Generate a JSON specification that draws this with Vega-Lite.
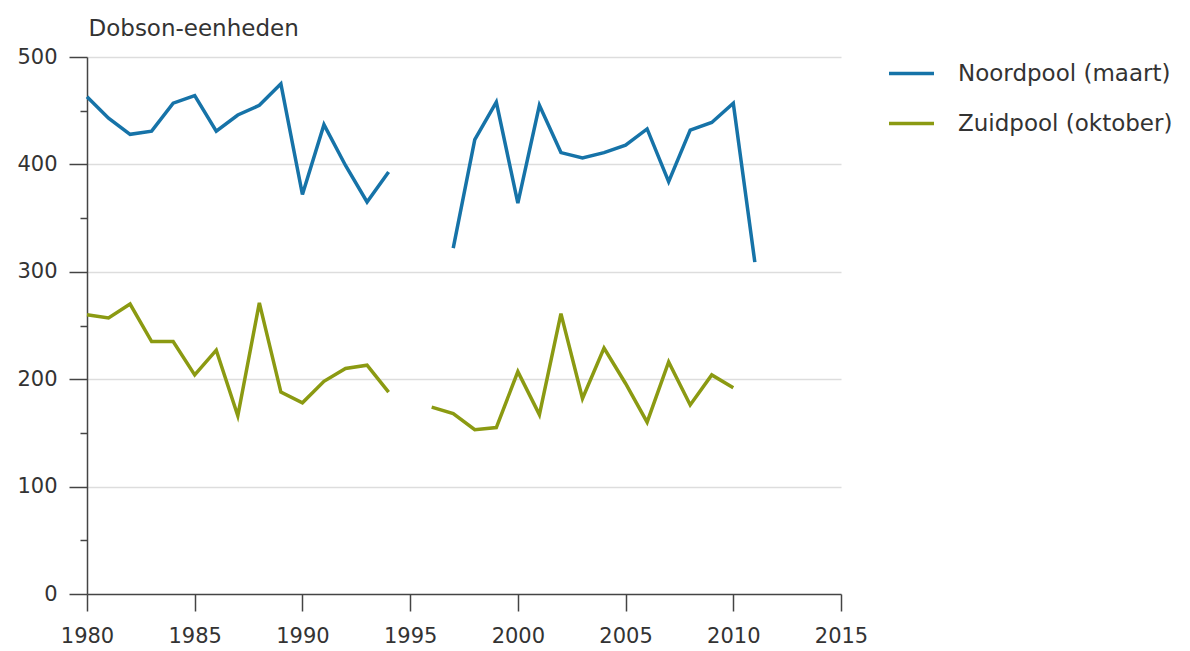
{
  "$schema": "https://vega.github.io/schema/vega-lite/v6.json",
  "width": 754,
  "height": 537,
  "autosize": "none",
  "padding": {"left": 87, "top": 57, "right": 349, "bottom": 57},
  "background": "white",
  "config": {
    "font": "DejaVu Sans",
    "view": {"stroke": null}
  },
  "data": {
    "values": [
      {"jaar": 1980, "serie": "Noordpool (maart)", "waarde": 463},
      {"jaar": 1981, "serie": "Noordpool (maart)", "waarde": 443},
      {"jaar": 1982, "serie": "Noordpool (maart)", "waarde": 428},
      {"jaar": 1983, "serie": "Noordpool (maart)", "waarde": 431},
      {"jaar": 1984, "serie": "Noordpool (maart)", "waarde": 457},
      {"jaar": 1985, "serie": "Noordpool (maart)", "waarde": 464},
      {"jaar": 1986, "serie": "Noordpool (maart)", "waarde": 431},
      {"jaar": 1987, "serie": "Noordpool (maart)", "waarde": 446},
      {"jaar": 1988, "serie": "Noordpool (maart)", "waarde": 455},
      {"jaar": 1989, "serie": "Noordpool (maart)", "waarde": 475},
      {"jaar": 1990, "serie": "Noordpool (maart)", "waarde": 372},
      {"jaar": 1991, "serie": "Noordpool (maart)", "waarde": 437},
      {"jaar": 1992, "serie": "Noordpool (maart)", "waarde": 399},
      {"jaar": 1993, "serie": "Noordpool (maart)", "waarde": 365},
      {"jaar": 1994, "serie": "Noordpool (maart)", "waarde": 393},
      {"jaar": 1995, "serie": "Noordpool (maart)", "waarde": null},
      {"jaar": 1996, "serie": "Noordpool (maart)", "waarde": null},
      {"jaar": 1997, "serie": "Noordpool (maart)", "waarde": 322},
      {"jaar": 1998, "serie": "Noordpool (maart)", "waarde": 423},
      {"jaar": 1999, "serie": "Noordpool (maart)", "waarde": 458},
      {"jaar": 2000, "serie": "Noordpool (maart)", "waarde": 364},
      {"jaar": 2001, "serie": "Noordpool (maart)", "waarde": 455},
      {"jaar": 2002, "serie": "Noordpool (maart)", "waarde": 411},
      {"jaar": 2003, "serie": "Noordpool (maart)", "waarde": 406},
      {"jaar": 2004, "serie": "Noordpool (maart)", "waarde": 411},
      {"jaar": 2005, "serie": "Noordpool (maart)", "waarde": 418},
      {"jaar": 2006, "serie": "Noordpool (maart)", "waarde": 433},
      {"jaar": 2007, "serie": "Noordpool (maart)", "waarde": 384},
      {"jaar": 2008, "serie": "Noordpool (maart)", "waarde": 432},
      {"jaar": 2009, "serie": "Noordpool (maart)", "waarde": 439},
      {"jaar": 2010, "serie": "Noordpool (maart)", "waarde": 457},
      {"jaar": 2011, "serie": "Noordpool (maart)", "waarde": 309},
      {"jaar": 1980, "serie": "Zuidpool (oktober)", "waarde": 260},
      {"jaar": 1981, "serie": "Zuidpool (oktober)", "waarde": 257},
      {"jaar": 1982, "serie": "Zuidpool (oktober)", "waarde": 270},
      {"jaar": 1983, "serie": "Zuidpool (oktober)", "waarde": 235},
      {"jaar": 1984, "serie": "Zuidpool (oktober)", "waarde": 235},
      {"jaar": 1985, "serie": "Zuidpool (oktober)", "waarde": 204},
      {"jaar": 1986, "serie": "Zuidpool (oktober)", "waarde": 227},
      {"jaar": 1987, "serie": "Zuidpool (oktober)", "waarde": 166},
      {"jaar": 1988, "serie": "Zuidpool (oktober)", "waarde": 271},
      {"jaar": 1989, "serie": "Zuidpool (oktober)", "waarde": 188},
      {"jaar": 1990, "serie": "Zuidpool (oktober)", "waarde": 178},
      {"jaar": 1991, "serie": "Zuidpool (oktober)", "waarde": 198},
      {"jaar": 1992, "serie": "Zuidpool (oktober)", "waarde": 210},
      {"jaar": 1993, "serie": "Zuidpool (oktober)", "waarde": 213},
      {"jaar": 1994, "serie": "Zuidpool (oktober)", "waarde": 188},
      {"jaar": 1995, "serie": "Zuidpool (oktober)", "waarde": null},
      {"jaar": 1996, "serie": "Zuidpool (oktober)", "waarde": 174},
      {"jaar": 1997, "serie": "Zuidpool (oktober)", "waarde": 168},
      {"jaar": 1998, "serie": "Zuidpool (oktober)", "waarde": 153},
      {"jaar": 1999, "serie": "Zuidpool (oktober)", "waarde": 155},
      {"jaar": 2000, "serie": "Zuidpool (oktober)", "waarde": 207},
      {"jaar": 2001, "serie": "Zuidpool (oktober)", "waarde": 167},
      {"jaar": 2002, "serie": "Zuidpool (oktober)", "waarde": 261},
      {"jaar": 2003, "serie": "Zuidpool (oktober)", "waarde": 182},
      {"jaar": 2004, "serie": "Zuidpool (oktober)", "waarde": 229},
      {"jaar": 2005, "serie": "Zuidpool (oktober)", "waarde": 196},
      {"jaar": 2006, "serie": "Zuidpool (oktober)", "waarde": 160},
      {"jaar": 2007, "serie": "Zuidpool (oktober)", "waarde": 216},
      {"jaar": 2008, "serie": "Zuidpool (oktober)", "waarde": 176},
      {"jaar": 2009, "serie": "Zuidpool (oktober)", "waarde": 204},
      {"jaar": 2010, "serie": "Zuidpool (oktober)", "waarde": 192}
    ]
  },
  "mark": {"type": "line", "strokeWidth": 3.5, "strokeJoin": "miter", "strokeCap": "butt"},
  "encoding": {
    "x": {
      "field": "jaar",
      "type": "quantitative",
      "scale": {"domain": [1980, 2015], "nice": false, "zero": false},
      "axis": {
        "title": null,
        "values": [1980, 1985, 1990, 1995, 2000, 2005, 2010, 2015],
        "format": "d",
        "grid": false,
        "domainColor": "#444444",
        "domainWidth": 1.5,
        "tickColor": "#444444",
        "tickWidth": 1.5,
        "tickSize": 17,
        "labelPadding": 14,
        "labelFontSize": 21,
        "labelColor": "#333333",
        "labelFlush": false
      }
    },
    "y": {
      "field": "waarde",
      "type": "quantitative",
      "scale": {"domain": [0, 500], "nice": false},
      "axis": {
        "title": "Dobson-eenheden",
        "titleAngle": 0,
        "titleAlign": "left",
        "titleBaseline": "alphabetic",
        "titleX": 1,
        "titleY": -22,
        "titleFontSize": 23,
        "titleFontWeight": "normal",
        "titleColor": "#333333",
        "values": [0, 50, 100, 150, 200, 250, 300, 350, 400, 450, 500],
        "labelExpr": "datum.value % 100 === 0 ? datum.label : ''",
        "domainColor": "#444444",
        "domainWidth": 1.5,
        "tickColor": "#444444",
        "tickWidth": 1.5,
        "tickSize": {"condition": {"test": "datum.value % 100 === 0", "value": 18}, "value": 7},
        "labelPadding": 12,
        "labelFontSize": 21,
        "labelColor": "#333333",
        "grid": true,
        "gridColor": "#dddddd",
        "gridWidth": 1.5,
        "gridOpacity": {"condition": {"test": "datum.value % 100 === 0 && datum.value > 0", "value": 1}, "value": 0}
      }
    },
    "color": {
      "field": "serie",
      "type": "nominal",
      "scale": {"domain": ["Noordpool (maart)", "Zuidpool (oktober)"], "range": ["#1673a8", "#8b9a12"]},
      "legend": {
        "title": null,
        "orient": "none",
        "legendX": 800,
        "legendY": -8,
        "symbolType": "stroke",
        "symbolSize": 2025,
        "symbolStrokeWidth": 3.5,
        "labelFontSize": 23,
        "labelColor": "#333333",
        "labelOffset": 22,
        "rowPadding": 13,
        "labelLimit": 400
      }
    }
  }
}
